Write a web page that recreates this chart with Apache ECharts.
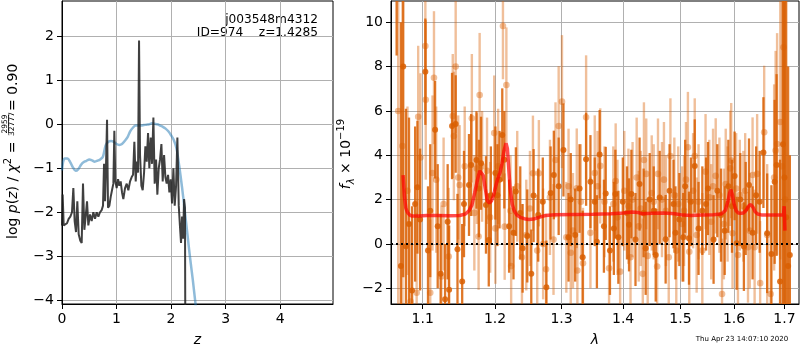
<!DOCTYPE html>
<html><head><meta charset="utf-8">
<script src="https://cdn.jsdelivr.net/npm/echarts@6/dist/echarts.min.js"></script>
<style>html,body{margin:0;padding:0;background:#fff}#c{width:800px;height:350px}</style>
</head><body><div id="c"></div>
<script>
const FONT = 'DejaVu Sans';

// ---------- left panel: p(z) ----------
const leftXTicks = [0, 1, 2, 3, 4];
const leftYTicks = [-4, -3, -2, -1, 0, 1, 2];
const blueZ = [0, 0.02, 0.05, 0.1, 0.15, 0.2, 0.25, 0.3, 0.35, 0.4, 0.45, 0.5, 0.55, 0.6, 0.65, 0.7, 0.75, 0.8, 0.85, 0.9, 0.95, 1.0, 1.05, 1.1, 1.15, 1.2, 1.25, 1.3, 1.35, 1.4, 1.45, 1.5, 1.55, 1.6, 1.65, 1.7, 1.75, 1.8, 1.85, 1.9, 1.95, 2.0, 2.05, 2.1, 2.15, 2.2, 2.25, 2.3, 2.35, 2.4, 2.45, 2.5];
const blueLogP = [-1.05, -0.86, -0.78, -0.78, -0.86, -0.98, -1.06, -1.02, -0.92, -0.86, -0.83, -0.8, -0.82, -0.85, -0.83, -0.8, -0.74, -0.48, -0.4, -0.38, -0.4, -0.45, -0.47, -0.45, -0.38, -0.3, -0.16, -0.08, -0.03, -0.03, -0.03, -0.02, -0.01, 0.0, 0.02, 0.01, 0.0, -0.03, -0.06, -0.1, -0.16, -0.25, -0.36, -0.55, -0.95, -1.42, -1.95, -2.5, -3.05, -3.55, -4.1, -4.65];
const blackZ = [0.000,0.012,0.031,0.061,0.092,0.122,0.153,0.183,0.208,0.232,
  0.257,0.281,0.306,0.336,0.361,0.385,0.410,0.434,0.459,0.483,
  0.514,0.544,0.575,0.606,0.636,0.667,0.697,0.728,0.752,0.771,
  0.789,0.807,0.826,0.844,0.869,0.893,0.917,0.942,0.960,0.979,
  1.003,1.028,1.052,1.076,1.101,1.125,1.156,1.187,1.217,1.248,
  1.278,1.303,1.327,1.352,1.370,1.394,1.413,1.431,1.456,1.480,
  1.505,1.529,1.554,1.578,1.602,1.627,1.651,1.676,1.700,1.725,
  1.749,1.774,1.798,1.823,1.847,1.872,1.896,1.920,1.945,1.969,
  1.994,2.018,2.043,2.067,2.092,2.116,2.141,2.165,2.183,2.202,
  2.220,2.239,2.255,2.265];
const blackLogP = [-2.3,-1.6,-2.3,-2.3,-2.25,-2.15,-2.1,-2.0,-1.45,-2.2,
  -2.45,-1.75,-2.5,-2.65,-2.7,-1.35,-2.4,-2.1,-1.75,-2.3,
  -2.05,-2.2,-2.0,-2.15,-2.0,-2.1,-2.0,-1.95,-1.85,-0.9,
  -1.75,-0.95,0.1,-1.9,-1.85,-1.65,-1.5,-1.35,-0.15,-1.3,
  -1.45,-1.25,-1.4,-1.3,-1.55,-1.7,-1.45,-1.35,-1.5,-1.3,
  -1.2,-1.15,-0.4,-1.3,-0.85,-1.1,1.9,-0.7,-1.4,-1.5,
  -1.1,-0.5,-0.85,-0.2,-1.0,-0.3,-0.9,0.15,-1.35,-0.8,
  -1.6,-1.0,-0.8,-0.45,-1.3,-0.7,-1.2,-1.35,-1.15,-1.55,
  -1.25,-1.8,-1.0,-1.85,-1.4,-0.3,-1.85,-2.35,-2.7,-2.1,
  -2.6,-1.7,-1.9,-6.0];

// ---------- right panel: spectrum ----------
const rightXTicks = [1.1, 1.2, 1.3, 1.4, 1.5, 1.6, 1.7];
const rightYTicks = [-2, 0, 2, 4, 6, 8, 10];
const darkLam = [1.066,1.0715,1.0745,1.078,1.082,1.086,1.090,1.093,1.0965,1.1035,1.107,1.110,1.1165,1.120,1.124,1.130,1.1335,1.1355,1.1395,1.1445,1.147,1.1535,1.156,1.163,1.166,1.1735,1.177,1.180,1.187,1.191,1.194,1.2005,1.2035,1.2065,1.2105,1.2135,1.2205,1.227,1.2305,1.237,1.2405,1.2475,1.2535,1.257,1.264,1.271,1.2765,1.283,1.288,1.2955,1.303,1.311,1.3145,1.3215,1.3285,1.3335,1.339,1.346,1.353,1.3565,1.361,1.368,1.371,1.378,1.3845,1.387,1.392,1.3995,1.4065,1.410,1.414,1.421,1.428,1.435,1.4385,1.4455,1.4525,1.456,1.463,1.4735,1.4805,1.4875,1.491,1.498,1.505,1.5085,1.5155,1.519,1.526,1.533,1.540,1.547,1.5505,1.561,1.568,1.575,1.582,1.589,1.596,1.601,1.605,1.612,1.619,1.6225,1.629,1.636,1.643,1.650,1.6575,1.665,1.6735,1.680,1.684,1.691,1.697,1.700,1.7035,1.7075,1.711];
const darkFlux = [13.0,-1.0,8.0,-0.1,0.9,-2.1,1.8,2.56,1.1,7.77,-0.3,1.5,5.15,0.8,-1.35,-2.5,1.0,-2.07,5.32,5.41,-0.24,-1.7,1.8,2.66,3.56,3.79,2.5,3.64,1.76,0.18,2.2,3.2,2.2,2.9,4.92,3.8,0.8,0.5,2.36,1.4,-0.2,0.36,-1.35,2.18,1.3,1.9,-1.95,2.3,3.11,2.6,4.24,0.3,2.0,0.4,2.5,-0.6,3.82,2.81,1.9,0.1,4.04,0.8,2.28,-0.3,0.7,2.25,0.3,1.9,1.4,0.86,2.25,0.2,2.7,1.4,-0.2,2.0,1.5,-0.5,2.1,0.21,2.4,1.8,0.5,1.1,0.3,2.6,0.26,1.9,3.52,0.7,1.5,1.8,2.5,0.2,2.4,1.3,0.6,2.6,1.7,3.07,0.03,2.0,-0.12,1.6,2.66,0.5,2.2,1.9,4.12,0.48,-0.45,2.8,3.56,-1.7,4.5,3.0,1.2,-1.0,-0.5];
const darkErr = [4.5,11,9.5,6.2,4.8,3.8,3.5,3.0,3.2,2.4,
  2.9,3.0,2.2,2.8,2.7,2.5,2.6,2.9,2.4,2.2,
  2.5,2.6,2.4,2.3,2.3,2.2,2.2,2.1,2.2,2.1,
  2.2,2.1,2.3,2.2,2.1,2.2,2.1,2.1,2.0,2.1,
  2.0,2.1,2.0,2.1,2.1,2.0,2.1,2.1,2.0,2.2,
  2.1,2.0,2.1,2.1,2.0,2.1,2.1,2.1,2.0,2.1,
  2.0,2.1,2.1,2.0,2.1,2.0,2.1,2.0,2.1,2.1,
  2.0,2.1,2.1,2.0,2.1,2.1,2.0,2.1,2.1,2.0,
  2.1,2.0,2.1,2.1,2.0,2.1,2.1,2.0,2.1,2.1,
  2.0,2.1,2.1,2.0,2.1,2.1,2.0,2.1,2.1,2.0,
  2.1,2.1,2.0,2.1,2.1,2.1,2.2,2.3,2.5,2.7,
  3.1,3.7,4.1,5.5,7.5,9.5,10,9,4.5];
const lightLam = [1.068,1.0735,1.080,1.084,1.092,1.094,1.097,1.1035,1.104,1.110,1.113,1.115,1.118,1.125,1.128,1.135,1.1405,1.142,1.1445,1.148,1.150,1.157,1.167,1.1705,1.174,1.1765,1.178,1.1815,1.1885,1.193,1.1988,1.2005,1.2045,1.2115,1.214,1.2165,1.2225,1.2235,1.2325,1.2395,1.246,1.256,1.2625,1.265,1.2715,1.276,1.282,1.2906,1.2955,1.3007,1.3075,1.311,1.318,1.324,1.325,1.334,1.339,1.346,1.353,1.362,1.369,1.3765,1.3835,1.3875,1.395,1.402,1.409,1.416,1.423,1.430,1.4335,1.4355,1.4395,1.442,1.449,1.4585,1.460,1.467,1.474,1.479,1.482,1.489,1.496,1.503,1.510,1.5135,1.516,1.523,1.526,1.533,1.540,1.546,1.553,1.560,1.565,1.572,1.577,1.584,1.5926,1.5945,1.597,1.604,1.611,1.618,1.627,1.636,1.640,1.645,1.651,1.659,1.665,1.672,1.679,1.682,1.685,1.6915,1.695,1.698,1.7015,
  1.2515,1.2875,1.3145,1.3305,1.3575,1.3905,1.4125,1.4265,1.4525,1.4705,1.4925,1.5065,1.5295,1.5565,1.5805,1.5875,1.6075,1.6215,1.6305];
const lightFlux = [6.0,4.42,2.4,-2.6,-2.2,5.74,3.9,8.93,6.5,-2.2,3.2,7.5,2.9,-1.47,1.8,-0.57,5.77,4.87,8.0,3.0,2.66,3.5,5.67,1.4,3.4,0.33,6.72,3.5,3.3,1.2,5.0,0.7,3.5,9.83,0.78,7.17,1.5,-1.0,2.6,-0.6,0.4,3.19,-0.3,3.19,0.0,-1.14,2.1,3.79,5.32,6.42,0.3,2.6,0.6,2.51,-1.2,-0.87,5.71,0.5,3.2,3.52,1.9,-1.1,1.8,2.84,-1.25,2.4,1.7,2.0,3.0,1.6,-1.35,3.79,3.16,-0.54,2.3,-1.02,3.16,2.0,1.5,-0.6,3.97,2.2,1.8,0.9,2.9,4.36,-0.35,2.4,3.97,1.9,-0.3,3.26,2.1,2.6,3.07,2.2,-2.26,2.7,3.41,3.76,0.48,2.5,2.2,1.7,-0.15,3.11,-0.15,3.16,-1.77,5.04,0.4,-2.26,3.0,4.21,4.51,5.5,3.5,8.87,2.0,
  1.6,0.2,-0.4,1.9,2.6,1.2,-0.6,0.8,1.9,2.9,-0.3,1.5,0.4,1.0,0.9,1.8,-0.5,2.4,0.6];
const lightErr = [9.0,8.0,3.8,3.6,3.6,3.2,3.8,3.0,3.6,3.3,
  3.5,3.0,3.3,3.2,3.0,3.1,2.8,2.9,3.0,2.8,
  2.7,2.7,2.9,2.6,2.5,2.4,2.8,2.5,2.4,2.5,
  2.6,2.5,2.6,2.4,2.4,2.6,2.5,2.4,2.5,2.4,
  2.5,2.6,2.5,2.4,2.5,2.5,2.6,2.6,2.7,3.0,
  2.5,2.6,2.6,2.7,2.5,2.5,2.8,2.5,2.6,2.6,
  2.5,2.5,2.6,2.6,2.6,2.7,2.6,2.6,2.7,2.6,
  2.5,2.6,2.5,2.6,2.6,2.6,2.5,2.6,2.5,2.6,
  2.6,2.6,2.6,2.6,2.6,2.5,2.6,2.6,2.6,2.6,
  2.6,2.6,2.6,2.6,2.6,2.6,2.5,2.5,2.6,2.6,
  2.5,2.5,2.5,2.5,2.5,2.6,2.6,2.7,2.8,3.0,
  3.2,3.6,4.2,4.5,5.0,6.2,7.5,9.0,10,
  2.6,2.5,2.6,2.6,2.5,2.6,2.6,2.5,2.6,2.6,2.6,2.5,2.6,2.6,2.5,2.6,2.5,2.6,2.6];
const modelLam = [1.0743,1.076,1.078,1.080,1.083,1.086,1.095,1.105,1.12,1.135,1.15,1.158,1.163,1.167,1.171,1.175,1.178,1.1805,1.183,1.186,1.189,1.192,1.195,1.198,1.201,1.204,1.207,1.210,1.213,1.216,1.218,1.220,1.222,1.225,1.228,1.232,1.237,1.243,1.25,1.257,1.265,1.275,1.29,1.32,1.35,1.38,1.40,1.415,1.425,1.432,1.45,1.47,1.49,1.505,1.52,1.54,1.56,1.575,1.583,1.588,1.5915,1.594,1.597,1.600,1.604,1.608,1.613,1.618,1.623,1.628,1.6325,1.637,1.641,1.646,1.655,1.67,1.685,1.698,1.6995,1.701];
const modelFlux = [3.1,2.15,1.6,1.42,1.3,1.26,1.26,1.28,1.28,1.27,1.28,1.35,1.5,1.75,2.3,2.9,3.3,3.35,3.1,2.5,1.95,1.85,1.95,2.2,2.6,2.95,3.2,3.6,4.2,4.55,4.3,3.4,2.5,1.8,1.5,1.3,1.2,1.14,1.1,1.12,1.2,1.28,1.32,1.33,1.34,1.36,1.4,1.44,1.42,1.36,1.38,1.4,1.36,1.3,1.28,1.3,1.32,1.35,1.5,1.9,2.3,2.45,2.2,1.8,1.5,1.4,1.38,1.4,1.5,1.7,1.78,1.65,1.45,1.35,1.3,1.3,1.3,1.3,1.7,0.6];
const zeroLevel = 0;

const leftXRange = [0, 4.97], leftYRange = [-4.085, 2.80];
const rightXRange = [1.0588, 1.730], rightYRange = [-2.71, 10.96];

const fmt = v => String(v).replace('-', '\u2212');
const zip2 = (a, b) => a.map((v, i) => [v, b[i]]);
const zip3 = (a, b, c) => a.map((v, i) => [v, b[i], c[i]]);

function errRender(color, r, w) {
  return function (params, api) {
    const x = api.value(0), y = api.value(1), e = api.value(2);
    const p1 = api.coord([x, y + e]), p2 = api.coord([x, y - e]), c = api.coord([x, y]);
    return { type: 'group', children: [
      { type: 'line', shape: { x1: p1[0], y1: p1[1], x2: p2[0], y2: p2[1] }, style: { stroke: color, lineWidth: w } },
      { type: 'circle', shape: { cx: c[0], cy: c[1], r: r }, style: { fill: color } }
    ]};
  };
}

const labelStyle = { color: '#000', fontSize: 14, fontFamily: FONT };
function axisCommon(ticks, extra) {
  return Object.assign({
    axisLine: { show: true, onZero: false, lineStyle: { color: '#000', width: 1 } },
    axisTick: { show: true, inside: false, length: 5, lineStyle: { color: '#000', width: 1 }, customValues: ticks },
    axisLabel: Object.assign({ customValues: ticks, formatter: fmt }, labelStyle),
    splitLine: { show: true, lineStyle: { color: '#b0b0b0', width: 1 } }
  }, extra);
}

const chart = echarts.init(document.getElementById('c'), null, { renderer: 'canvas' });
const option = {
  animation: false,
  backgroundColor: '#fff',
  grid: [
    { left: 62, top: 1, width: 271, height: 303, show: true, borderColor: '#000', borderWidth: 1, backgroundColor: 'transparent', containLabel: false, outerBoundsMode: 'none' },
    { left: 391, top: 1, width: 408, height: 303, show: true, borderColor: '#000', borderWidth: 1, backgroundColor: 'transparent', containLabel: false, outerBoundsMode: 'none' }
  ],
  xAxis: [
    axisCommon(leftXTicks, { type: 'value', gridIndex: 0, min: leftXRange[0], max: leftXRange[1] }),
    axisCommon(rightXTicks, { type: 'log', gridIndex: 1, min: rightXRange[0], max: rightXRange[1] })
  ],
  yAxis: [
    axisCommon(leftYTicks, { type: 'value', gridIndex: 0, min: leftYRange[0], max: leftYRange[1] }),
    axisCommon(rightYTicks, { type: 'value', gridIndex: 1, min: rightYRange[0], max: rightYRange[1] })
  ],
  series: [
    { type: 'line', xAxisIndex: 0, yAxisIndex: 0, data: zip2(blueZ, blueLogP), showSymbol: false, smooth: 0.3, clip: true,
      lineStyle: { color: 'rgba(31,119,180,0.5)', width: 2.5 }, z: 3 },
    { type: 'line', xAxisIndex: 0, yAxisIndex: 0, data: zip2(blackZ, blackLogP), showSymbol: false, clip: true,
      lineStyle: { color: 'rgba(30,30,30,0.85)', width: 2 }, z: 4 },
    { type: 'custom', xAxisIndex: 1, yAxisIndex: 1, data: zip3(lightLam, lightFlux, lightErr), clip: true,
      encode: { x: 0, y: 1 }, renderItem: errRender('rgba(217,95,2,0.4)', 3.3, 2.4), z: 2 },
    { type: 'custom', xAxisIndex: 1, yAxisIndex: 1, data: zip3(darkLam, darkFlux, darkErr), clip: true,
      encode: { x: 0, y: 1 }, renderItem: errRender('rgba(217,95,2,0.85)', 3.0, 2.3), z: 3 },
    { type: 'line', xAxisIndex: 1, yAxisIndex: 1, data: [[rightXRange[0], zeroLevel], [rightXRange[1], zeroLevel]], showSymbol: false, clip: true,
      lineStyle: { color: '#000', width: 2, type: [2, 3] }, z: 4 },
    { type: 'line', xAxisIndex: 1, yAxisIndex: 1, data: zip2(modelLam, modelFlux), showSymbol: false, clip: true,
      lineStyle: { color: 'rgba(255,0,0,0.7)', width: 3.5 }, z: 5 }
  ],
  graphic: [
    { type: 'text', x: 318, y: 20, style: { text: 'j003548m4312', fontSize: 12.2, fontFamily: FONT, fill: '#000', align: 'right', verticalAlign: 'middle', textAlign: 'right', textVerticalAlign: 'middle' } },
    { type: 'text', x: 318, y: 33, style: { text: 'ID=974    z=1.4285', fontSize: 12.2, fontFamily: FONT, fill: '#000', align: 'right', verticalAlign: 'middle', textAlign: 'right', textVerticalAlign: 'middle' } },
    { type: 'text', x: 197.5, y: 340, style: { text: 'z', fontSize: 14, fontStyle: 'italic', fontFamily: FONT, fill: '#000', align: 'center', verticalAlign: 'middle', textAlign: 'center', textVerticalAlign: 'middle' } },
    { type: 'text', x: 595, y: 340, style: { text: 'λ', fontSize: 14, fontStyle: 'italic', fontFamily: FONT, fill: '#000', align: 'center', verticalAlign: 'middle', textAlign: 'center', textVerticalAlign: 'middle' } },
    { type: 'text', x: 742, y: 339, style: { text: 'Thu Apr 23 14:07:10 2020', fontSize: 7, fontFamily: FONT, fill: '#000', align: 'center', verticalAlign: 'middle', textAlign: 'center', textVerticalAlign: 'middle' } },
    { type: 'group', x: 13, y: 239, rotation: Math.PI / 2, children: [
      { type: 'text', x: 0, y: 0, style: { text: '{n|log }{i|p}{n|(}{i|z}{n|) / }{i|χ}{s|2}{n| =}', fill: '#000', align: 'left', verticalAlign: 'middle', textAlign: 'left', textVerticalAlign: 'middle',
        rich: { n: { fontSize: 14, fontFamily: FONT, lineHeight: 20 }, i: { fontSize: 14, fontFamily: FONT, fontStyle: 'italic', lineHeight: 20 }, s: { fontSize: 10, fontFamily: FONT, lineHeight: 10, verticalAlign: 'top' } } } },
      { type: 'text', x: 115, y: -8, style: { text: '2959', fontSize: 7.5, fontFamily: FONT, fill: '#000', align: 'center', verticalAlign: 'middle', textAlign: 'center', textVerticalAlign: 'middle' } },
      { type: 'line', shape: { x1: 106, y1: -4.5, x2: 124, y2: -4.5 }, style: { stroke: '#000', lineWidth: 0.8 } },
      { type: 'text', x: 115, y: -0.5, style: { text: '32777', fontSize: 7.5, fontFamily: FONT, fill: '#000', align: 'center', verticalAlign: 'middle', textAlign: 'center', textVerticalAlign: 'middle' } },
      { type: 'text', x: 128, y: 0, style: { text: '= 0.90', fontSize: 14, fontFamily: FONT, fill: '#000', align: 'left', verticalAlign: 'middle', textAlign: 'left', textVerticalAlign: 'middle' } }
    ]},
    { type: 'text', x: 346, y: 154, rotation: Math.PI / 2, style: { text: '{i|f}{sub|λ}{n| × 10}{sup|\u221219}', fill: '#000', align: 'center', verticalAlign: 'middle', textAlign: 'center', textVerticalAlign: 'middle',
      rich: { i: { fontSize: 14, fontFamily: FONT, fontStyle: 'italic', lineHeight: 20 }, n: { fontSize: 14, fontFamily: FONT, lineHeight: 20 },
        sub: { fontSize: 10, fontFamily: FONT, fontStyle: 'italic', lineHeight: 10, verticalAlign: 'bottom' }, sup: { fontSize: 10, fontFamily: FONT, lineHeight: 10, verticalAlign: 'top' } } } }
  ]
};
chart.setOption(option);
</script>
</body></html>
